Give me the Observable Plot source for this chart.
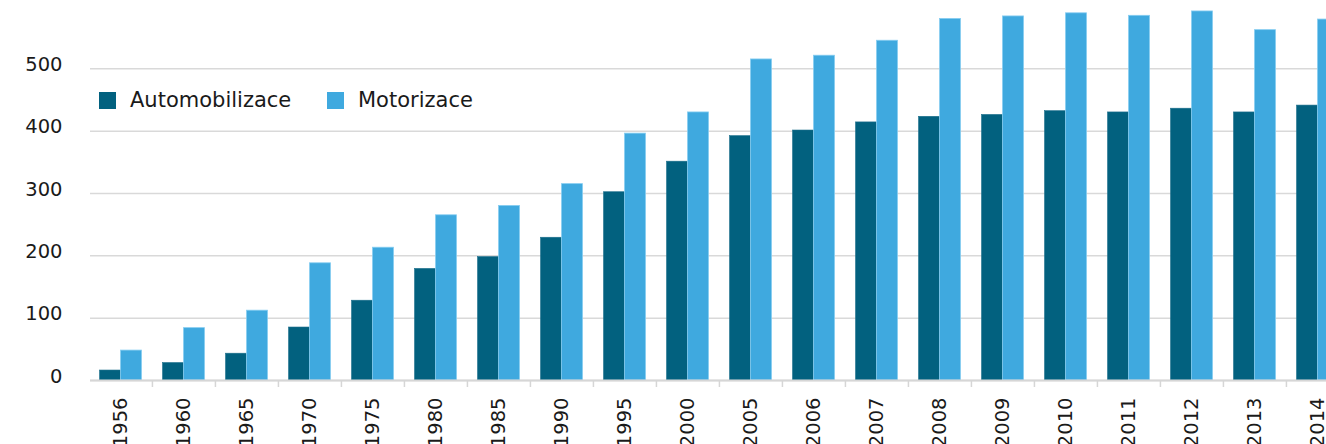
<!DOCTYPE html>
<html>
<head>
<meta charset="utf-8">
<script src="https://cdn.jsdelivr.net/npm/d3@7"></script>
<script src="https://cdn.jsdelivr.net/npm/@observablehq/plot@0.6"></script>
<style>
  html, body { margin: 0; padding: 0; background: #fff; overflow: hidden; width: 1326px; height: 444px; }
  #wrap { position: relative; width: 1326px; height: 444px; }
  .lg { position: absolute; display: flex; align-items: center; font: 21px "DejaVu Sans", sans-serif; color: #1a1a1a; white-space: nowrap; line-height: 1; }
  .sw { width: 17px; height: 17px; margin-right: 14px; flex: none; }
</style>
</head>
<body>
<div id="wrap"></div>
<script>
const years = ["1956","1960","1965","1970","1975","1980","1985","1990","1995","2000","2005","2006","2007","2008","2009","2010","2011","2012","2013","2014"];
const automobilizace = [16, 28, 43, 85, 128, 179, 198, 229, 302, 351, 392, 401, 414, 423, 426, 432, 430, 436, 430, 441];
const motorizace = [48, 84, 112, 188, 213, 265, 280, 315, 396, 430, 515, 521, 545, 580, 584, 589, 585, 592, 562, 579];
const seriesNames = ["Automobilizace", "Motorizace"];
const seriesColors = ["#02617f", "#3fa9df"];
const yTicks = [0, 100, 200, 300, 400, 500];

const rows = years.map((year, i) => ({ year, auto: automobilizace[i], moto: motorizace[i] }));

const xRange = [87.84, 1351];
const step = (xRange[1] - xRange[0]) / years.length;
const pad = step / 6, bw = step / 3;

const plot = Plot.plot({
  width: 1326,
  height: 444,
  marginLeft: 90,
  marginRight: 0,
  marginTop: 0,
  marginBottom: 64,
  style: { fontFamily: '"DejaVu Sans", sans-serif', fontSize: "19.5px", color: "#1a1a1a", background: "#fff", overflow: "hidden" },
  x: { type: "band", domain: years, range: xRange, padding: 0, axis: null, label: null },
  y: { domain: [0, 500], range: [380, 68.3], axis: null, label: null },
  marks: [
    Plot.gridY(yTicks, { stroke: "#d9d9d9", strokeOpacity: 1, strokeWidth: 1.5 }),
    Plot.barY(rows, { x: "year", y: "auto", fill: seriesColors[0], stroke: "#1d6f8c", strokeWidth: 0.6, insetLeft: pad, insetRight: step - pad - bw }),
    Plot.barY(rows, { x: "year", y: "moto", fill: seriesColors[1], stroke: "#86cdf1", strokeWidth: 0.8, insetLeft: pad + bw, insetRight: pad }),
    Plot.ruleY([0], { stroke: "#d6d6d6", strokeWidth: 2 }),
    Plot.axisX(years.slice(1), { tickSize: 7, dx: -step / 2, tickFormat: () => "", label: null, stroke: "#d6d6d6", strokeWidth: 1.5 }),
    Plot.axisX(years, { tickSize: 0, tickPadding: 17, tickRotate: -90, label: null, fill: "#1a1a1a" }),
    Plot.axisY(yTicks, { tickSize: 0, tickPadding: 28, dy: -4, label: null, fill: "#1a1a1a" })
  ]
});

const wrap = document.getElementById("wrap");
wrap.appendChild(plot);

const legendLefts = [99, 327];
seriesNames.forEach((name, i) => {
  const item = document.createElement("div");
  item.className = "lg";
  item.style.left = legendLefts[i] + "px";
  item.style.top = "90px";
  const sw = document.createElement("span");
  sw.className = "sw";
  sw.style.background = seriesColors[i];
  const tx = document.createElement("span");
  tx.textContent = name;
  item.appendChild(sw);
  item.appendChild(tx);
  wrap.appendChild(item);
});
</script>
</body>
</html>
